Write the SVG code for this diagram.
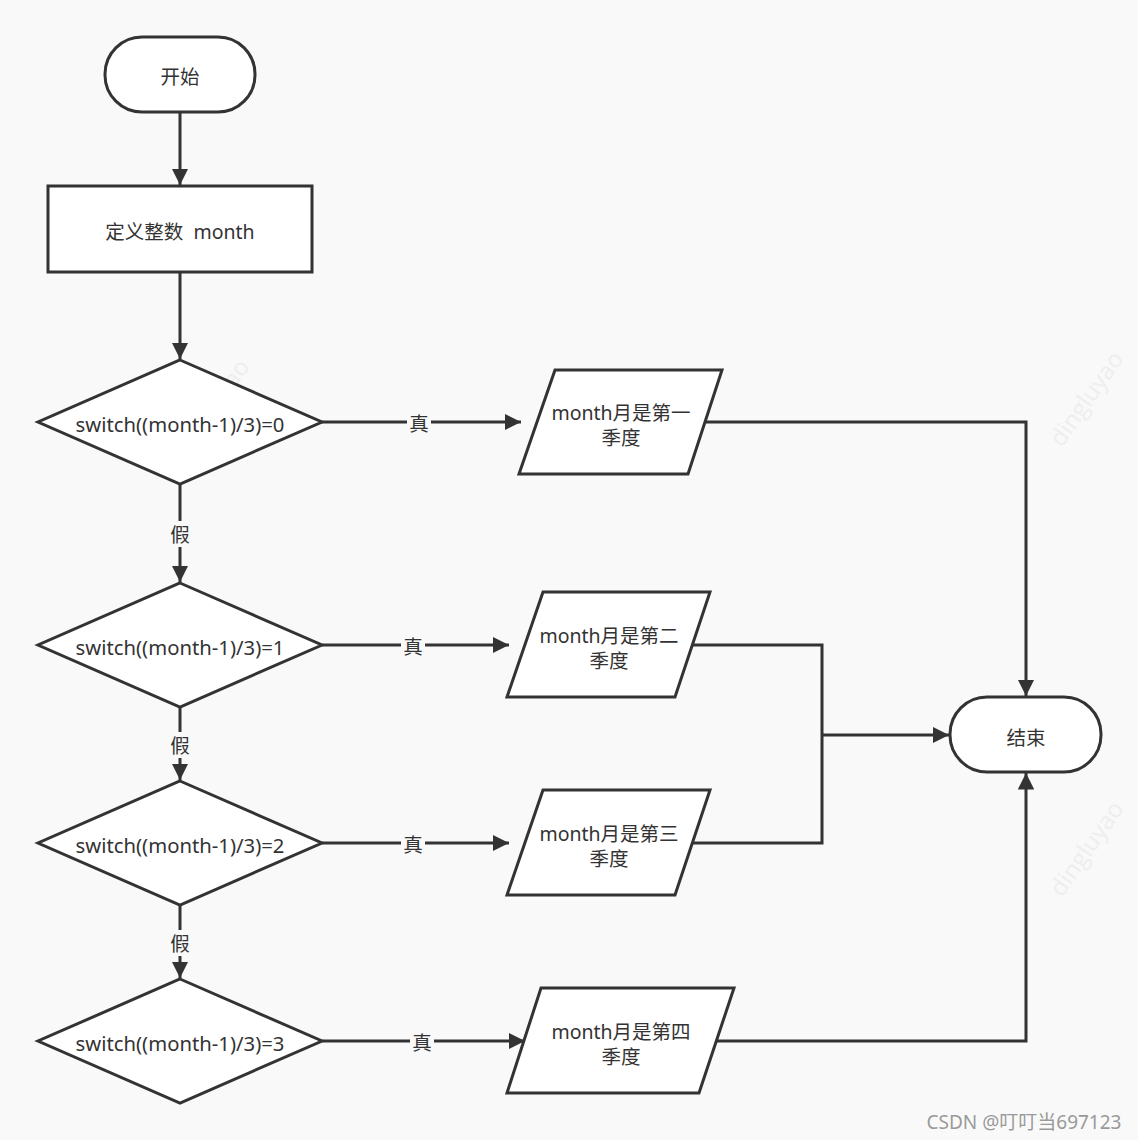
<svg xmlns="http://www.w3.org/2000/svg" width="1138" height="1140" viewBox="0 0 1138 1140">
<defs>
<marker id="ah" viewBox="0 0 10 10" refX="10" refY="5" markerWidth="5.5" markerHeight="5.5" orient="auto" markerUnits="strokeWidth">
<path d="M0,0 L10,5 L0,10 Z" fill="#333"/>
</marker>
<style>
.node{fill:#fff;stroke:#333;stroke-width:3}
.t{font-family:"Noto Sans","Noto Sans CJK SC",sans-serif;font-size:19.5px;fill:#333;text-anchor:middle;dominant-baseline:central;white-space:pre}
.s{font-size:20.3px}
.e{fill:none;stroke:#333;stroke-width:3}
.lb{fill:#f9f9f9}
.wm{font-family:"Open Sans","Noto Sans",sans-serif;font-size:24px;fill:#eeeeee}
</style>
</defs>
<rect width="1138" height="1140" fill="#f9f9f9"/>
<g id="watermarks">
<text class="wm" transform="translate(1062,448) rotate(-55)">dingluyao</text>
<text class="wm" transform="translate(1062,898) rotate(-55)">dingluyao</text>
<text class="wm" transform="translate(188,456) rotate(-55)">dingluyao</text>
<text class="wm" transform="translate(630,463) rotate(-55)">dingluyao</text>
</g>
<g id="connectors">
<path class="e" d="M180,112 V185" marker-end="url(#ah)"/>
<path class="e" d="M180,272 V359" marker-end="url(#ah)"/>
<path class="e" d="M180,484 V582" marker-end="url(#ah)"/>
<path class="e" d="M180,707 V780" marker-end="url(#ah)"/>
<path class="e" d="M180,905 V978" marker-end="url(#ah)"/>
<path class="e" d="M322,422 H521" marker-end="url(#ah)"/>
<path class="e" d="M322,645 H509" marker-end="url(#ah)"/>
<path class="e" d="M322,843 H509" marker-end="url(#ah)"/>
<path class="e" d="M322,1041 H525" marker-end="url(#ah)"/>
<path class="e" d="M705,422 H1026 V696" marker-end="url(#ah)"/>
<path class="e" d="M692,645 H822 V843 H692"/>
<path class="e" d="M822,735 H949" marker-end="url(#ah)"/>
<path class="e" d="M716,1041 H1026 V773" marker-end="url(#ah)"/>
<rect class="lb" x="168" y="521" width="24" height="26"/>
<text class="t" x="180" y="534">假</text>
<rect class="lb" x="168" y="732" width="24" height="26"/>
<text class="t" x="180" y="745">假</text>
<rect class="lb" x="168" y="930" width="24" height="26"/>
<text class="t" x="180" y="943">假</text>
<rect class="lb" x="407" y="411" width="24" height="24"/>
<text class="t" x="419" y="423">真</text>
<rect class="lb" x="401" y="634" width="24" height="24"/>
<text class="t" x="413" y="646">真</text>
<rect class="lb" x="401" y="832" width="24" height="24"/>
<text class="t" x="413" y="844">真</text>
<rect class="lb" x="410" y="1030" width="24" height="24"/>
<text class="t" x="422" y="1042">真</text>
</g>
<g id="start">
<rect class="node" x="105" y="37" width="150" height="75" rx="37" ry="37"/>
<text class="t" x="180" y="76">开始</text>
</g>
<g id="define">
<rect class="node" x="48" y="186" width="264" height="86"/>
<text class="t" x="180" y="231" xml:space="preserve">定义整数  month</text>
</g>
<g id="d0">
<path class="node" d="M180,360 L322,422 L180,484 L38,422 Z"/>
<text class="t s" x="180" y="424">switch((month-1)/3)=0</text>
</g>
<g id="d1">
<path class="node" d="M180,583 L322,645 L180,707 L38,645 Z"/>
<text class="t s" x="180" y="647">switch((month-1)/3)=1</text>
</g>
<g id="d2">
<path class="node" d="M180,781 L322,843 L180,905 L38,843 Z"/>
<text class="t s" x="180" y="845">switch((month-1)/3)=2</text>
</g>
<g id="d3">
<path class="node" d="M180,979 L322,1041 L180,1103 L38,1041 Z"/>
<text class="t s" x="180" y="1043">switch((month-1)/3)=3</text>
</g>
<g id="p1">
<path class="node" d="M555,370 L722,370 L688,474 L519,474 Z"/>
<text class="t" x="621" y="412">month月是第一</text>
<text class="t" x="621" y="437">季度</text>
</g>
<g id="p2">
<path class="node" d="M543,592 L710,592 L675,697 L507,697 Z"/>
<text class="t" x="609" y="635">month月是第二</text>
<text class="t" x="609" y="660">季度</text>
</g>
<g id="p3">
<path class="node" d="M543,790 L710,790 L675,895 L507,895 Z"/>
<text class="t" x="609" y="833">month月是第三</text>
<text class="t" x="609" y="858">季度</text>
</g>
<g id="p4">
<path class="node" d="M541,988 L734,988 L699,1093 L507,1093 Z"/>
<text class="t" x="621" y="1031">month月是第四</text>
<text class="t" x="621" y="1056">季度</text>
</g>
<g id="end">
<rect class="node" x="950" y="697" width="151" height="75" rx="37" ry="37"/>
<text class="t" x="1026" y="737">结束</text>
</g>
<text x="1024" y="1122" style="font-family:'Noto Sans','Noto Sans CJK SC',sans-serif;font-size:19px;fill:#999;text-anchor:middle;dominant-baseline:central">CSDN @叮叮当697123</text>
</svg>
